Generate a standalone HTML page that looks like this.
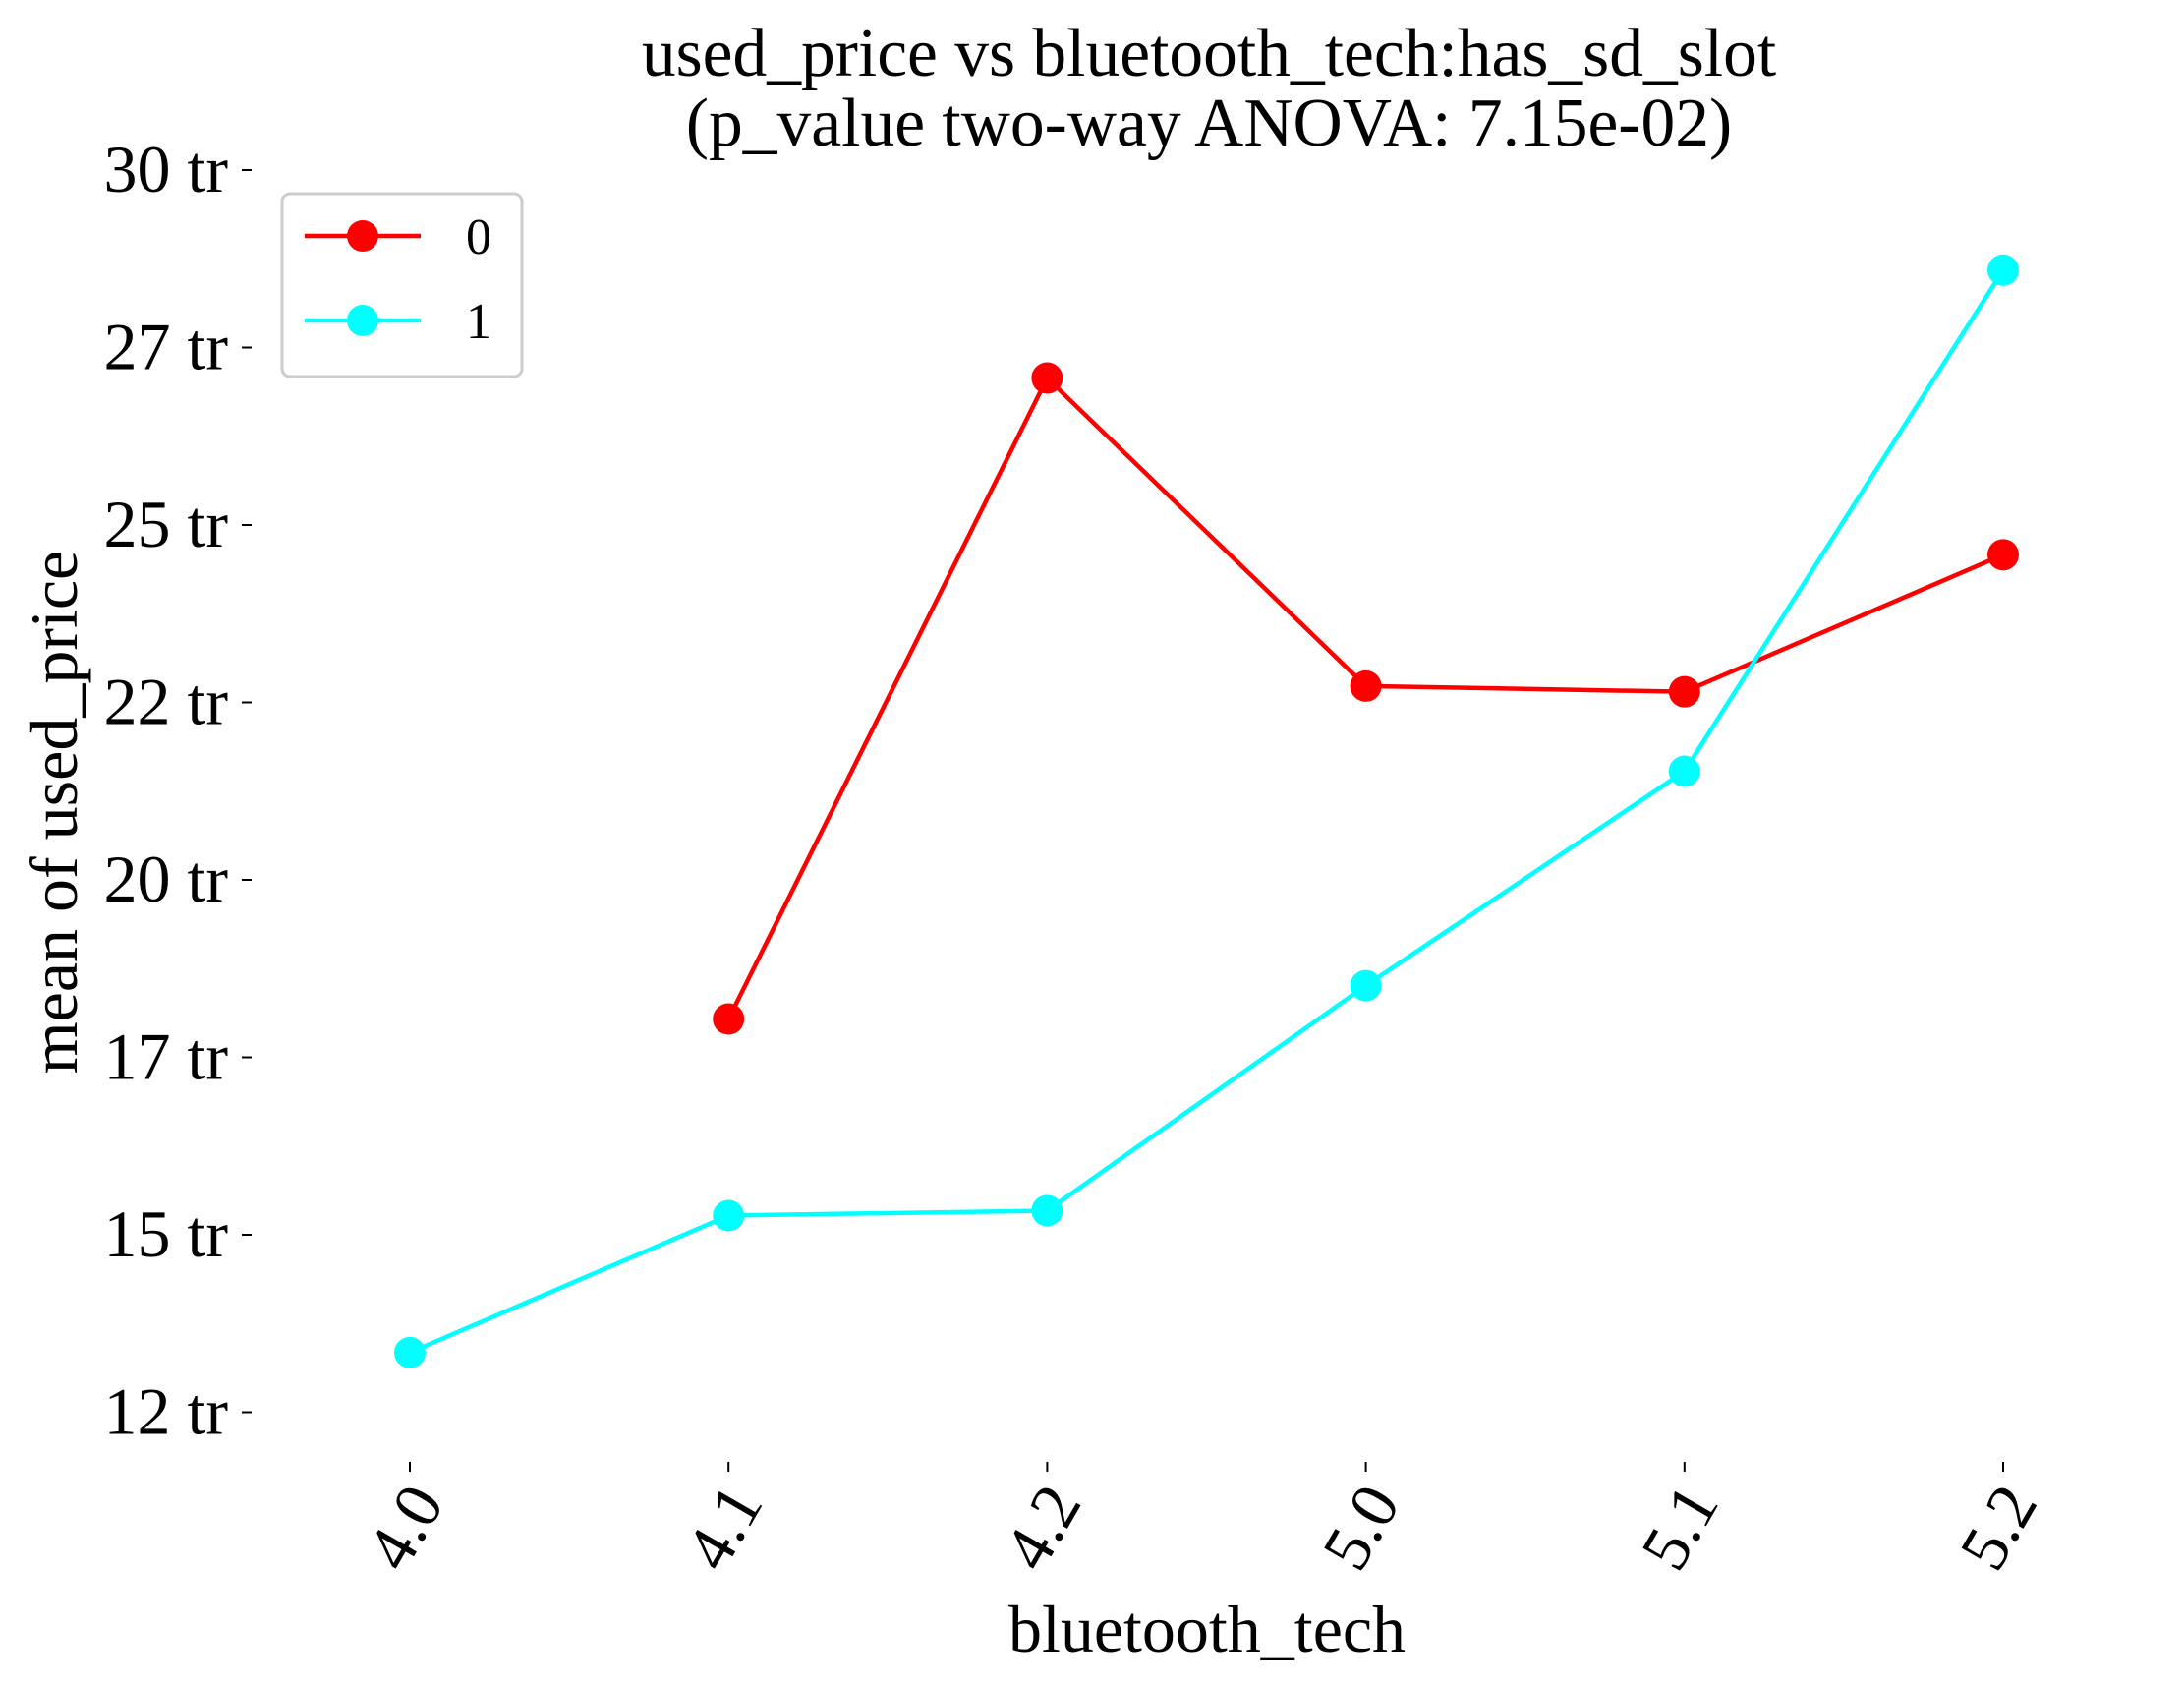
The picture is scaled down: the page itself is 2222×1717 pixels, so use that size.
<!DOCTYPE html>
<html><head><meta charset="utf-8"><style>
html,body{margin:0;padding:0;background:#fff;}
svg{display:block;font-family:"Liberation Serif",serif;}
</style></head><body>
<svg id="chart" width="2222" height="1717" viewBox="0 0 2222 1717">
<text x="1230" y="77" font-size="69.5" text-anchor="middle">used_price vs bluetooth_tech:has_sd_slot</text>
<text x="1230" y="148" font-size="69.5" text-anchor="middle">(p_value two-way ANOVA: 7.15e-02)</text>
<g id="yaxis"></g>
<g id="xaxis"></g>
<text x="0" y="0" font-size="68" text-anchor="middle" transform="translate(78,826) rotate(-90)">mean of used_price</text>
<text x="1228" y="1680" font-size="68" text-anchor="middle">bluetooth_tech</text>
<g id="series"></g>
<g>
<rect x="287" y="197" width="244" height="186" rx="8" fill="#fff" stroke="#ccc" stroke-width="3"/>
<g>
<line x1="310" y1="240" x2="428" y2="240" stroke="#ff0000" stroke-width="4.5"/>
<circle cx="369" cy="240" r="16" fill="#ff0000"/>
<text x="474" y="258" font-size="52">0</text>
</g>
<g>
<line x1="310" y1="326" x2="428" y2="326" stroke="#00ffff" stroke-width="4.5"/>
<circle cx="369" cy="326" r="16" fill="#00ffff"/>
<text x="474" y="344" font-size="52">1</text>
</g>
</g>
</svg>
<script>
const categories = ["4.0","4.1","4.2","5.0","5.1","5.2"];
const series0 = [null, 18.04, 27.07, 22.73, 22.65, 24.58];
const series1 = [13.34, 15.27, 15.34, 18.51, 21.53, 28.59];
const yTicks = [12.5, 15, 17.5, 20, 22.5, 25, 27.5, 30];
const yTickLabels = ["12 tr","15 tr","17 tr","20 tr","22 tr","25 tr","27 tr","30 tr"];
const NS = "http://www.w3.org/2000/svg";
function xPos(i){ return 417 + i*324.2; }
function yPos(v){ return 173 + (30 - v)*72.2; }
function mk(tag, attrs, parent){ const e=document.createElementNS(NS,tag); for(const k in attrs) e.setAttribute(k,attrs[k]); parent.appendChild(e); return e; }
const ya=document.getElementById('yaxis');
yTicks.forEach((v,i)=>{
  const y=yPos(v);
  const t=mk('line',{x1:246,x2:256,y1:y,y2:y,stroke:'#000','stroke-width':2},ya);
  
  
  const l=mk('text',{x:232,y:y+22,'font-size':68,'text-anchor':'end'},ya);
  l.textContent=yTickLabels[i];
  
  
});
const xa=document.getElementById('xaxis');
categories.forEach((c,i)=>{
  const x=xPos(i);
  const t=mk('line',{x1:x,x2:x,y1:1487,y2:1497,stroke:'#000','stroke-width':2},xa);
  
  
  const l=mk('text',{x:0,y:0,'font-size':68,'text-anchor':'end',transform:`translate(${x+36},${1528}) rotate(-60)`},xa);
  l.textContent=c;
  
  
});
const sg=document.getElementById('series');
function drawSeries(vals,color,name){
  const pts=[];
  vals.forEach((v,i)=>{ if(v!==null) pts.push([xPos(i),yPos(v)]); });
  const pl=mk('polyline',{points:pts.map(p=>p.join(',')).join(' '),fill:'none',stroke:color,'stroke-width':4.5},sg);
  
  
  pts.forEach(p=>{
    const c=mk('circle',{cx:p[0],cy:p[1],r:16,fill:color},sg);
    
    
  });
}
drawSeries(series0,'#ff0000','series-0');
drawSeries(series1,'#00ffff','series-1');
</script>
</body></html>
